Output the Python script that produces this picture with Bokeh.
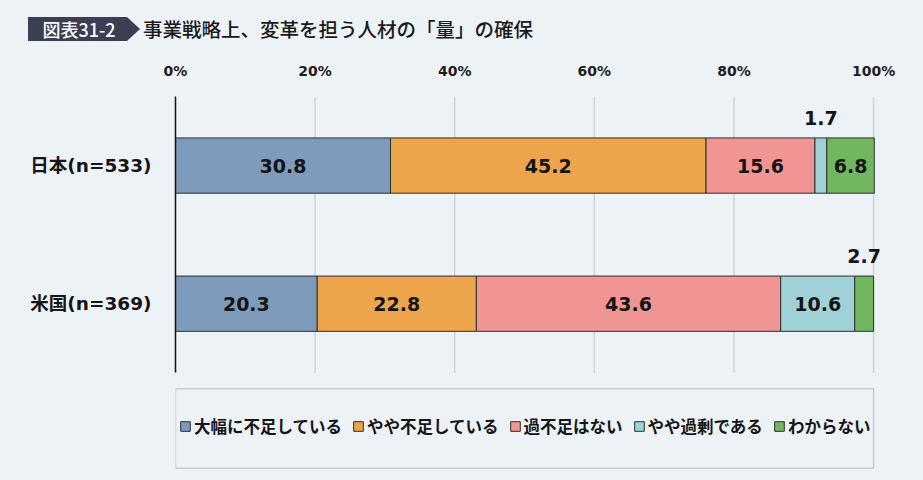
from bokeh.core.properties import value
from bokeh.embed import file_html
from bokeh.layouts import column
from bokeh.models import (BoxAnnotation, ColumnDataSource, Div, FixedTicker, Legend,
                          LegendItem, PrintfTickFormatter, Range1d)
from bokeh.plotting import figure
from bokeh.resources import INLINE

# data
groups = ["日本(n=533)", "米国(n=369)"]
categories = ["大幅に不足している", "やや不足している", "過不足はない", "やや過剰である", "わからない"]
japan = [30.8, 45.2, 15.6, 1.7, 6.8]
usa = [20.3, 22.8, 43.6, 10.6, 2.7]
colors = ["#7f9bbb", "#eca54b", "#f19594", "#a0d1d6", "#72b760"]
x_ticks = [0, 20, 40, 60, 80, 100]

BG = "#edf2f6"
BAR_H = 0.4
X_END = 104                        # a little room right of 100% for the outside labels
Y_TOP, Y_BOTTOM = 1.5, -1.28       # frame extends below the bars to hold the legend box
LEG_TOP, LEG_BOTTOM = -0.615, -1.192

series = [japan, usa]
rows = [len(groups) - 1 - i for i in range(len(groups))]
keys = ["c%d" % k for k in range(len(categories))]

data = {"y": rows}
for k, key in enumerate(keys):
    data[key] = [s[k] for s in series]
source = ColumnDataSource(data)

# header: badge + title
header = Div(text="""
<div style="position:relative;width:923px;height:59px;font-family:'Noto Sans CJK JP',sans-serif;">
  <div style="position:absolute;left:28px;top:17px;width:112px;height:24px;background:#3c3f53;
              clip-path:polygon(0 0,99px 0,112px 50%,99px 100%,0 100%);"></div>
  <div style="position:absolute;left:28px;top:17px;width:102px;height:24px;line-height:24px;
              text-align:center;color:#ffffff;font-size:18px;font-weight:500;">図表31-2</div>
  <div style="position:absolute;left:143px;top:15px;height:28px;line-height:28px;
              font-size:19.5px;font-weight:500;color:#1b1b1b;white-space:nowrap;">事業戦略上、変革を担う人材の「量」の確保</div>
</div>""", width=923, height=59, margin=0)

p = figure(width=923, height=421, output_backend="svg", toolbar_location=None,
           x_range=Range1d(0, X_END), y_range=Range1d(Y_BOTTOM, Y_TOP),
           x_axis_location="above", min_border_left=175, min_border_right=22,
           min_border_top=35, min_border_bottom=0, margin=0)
p.background_fill_color = BG
p.border_fill_color = BG
p.outline_line_color = None
p.xgrid.visible = False
p.ygrid.visible = False

# vertical grid lines limited to the bar area
p.segment(x0=x_ticks[1:], x1=x_ticks[1:], y0=-0.5, y1=1.5, line_color="#cfd3d7", line_width=1.5)

renderers = p.hbar_stack(keys, y="y", height=BAR_H, color=colors, source=source,
                         line_color="#2e2e2e", line_width=1)

# value labels: inside the segment when wide enough, above it otherwise
in_x, in_y, in_t, out_x, out_y, out_t = [], [], [], [], [], []
for s, row in zip(series, rows):
    left = 0
    for v in s:
        if v >= 5:
            in_x.append(left + v / 2); in_y.append(row); in_t.append("%.1f" % v)
        else:
            out_x.append(left + v / 2); out_y.append(row + BAR_H / 2); out_t.append("%.1f" % v)
        left += v

p.text(x=in_x, y=in_y, text=in_t, text_font=value("DejaVu Sans"), text_font_style="bold",
       text_font_size="19px", text_color="#151515", text_align="center", text_baseline="middle")
p.text(x=out_x, y=out_y, text=out_t, text_font=value("DejaVu Sans"), text_font_style="bold",
       text_font_size="19px", text_color="#151515", text_align="center", text_baseline="bottom",
       y_offset=-13)

# axes
p.xaxis.ticker = FixedTicker(ticks=x_ticks)
p.xaxis.formatter = PrintfTickFormatter(format="%d%%")
p.xaxis.axis_line_color = None
p.xaxis.major_tick_line_color = None
p.xaxis.minor_tick_line_color = None
p.xaxis.major_label_standoff = 12
p.xaxis.major_label_text_font = "DejaVu Sans"
p.xaxis.major_label_text_font_style = "bold"
p.xaxis.major_label_text_font_size = "14px"
p.xaxis.major_label_text_color = "#1e1e1e"

p.yaxis.ticker = FixedTicker(ticks=rows)
p.yaxis.major_label_overrides = {r: g for r, g in zip(rows, groups)}
p.yaxis.bounds = (-0.5, 1.5)
p.yaxis.axis_line_color = "#111111"
p.yaxis.axis_line_width = 1.5
p.yaxis.major_tick_line_color = None
p.yaxis.minor_tick_line_color = None
p.yaxis.major_label_standoff = 18
p.yaxis.major_label_text_font = "DejaVu Sans, Noto Sans CJK JP"
p.yaxis.major_label_text_font_style = "bold"
p.yaxis.major_label_text_font_size = "18.5px"
p.yaxis.major_label_text_color = "#151515"

# legend in a framed box under the bars
p.add_layout(BoxAnnotation(left=0, right=100, top=LEG_TOP, bottom=LEG_BOTTOM,
                           fill_color=BG, fill_alpha=1, line_color="#c6cacd", line_alpha=1,
                           line_width=1.5))
legend = Legend(items=[LegendItem(label=c, renderers=[r]) for c, r in zip(categories, renderers)],
                orientation="horizontal", location=(4, 42), padding=0,
                spacing=10, glyph_width=12, glyph_height=12, label_standoff=3, label_height=20,
                label_text_font="Noto Sans CJK JP", label_text_font_style="bold",
                label_text_font_size="16.5px", label_text_color="#151515",
                background_fill_alpha=0, border_line_color=None)
p.add_layout(legend)

layout = column(header, p, spacing=0, margin=0)
html = file_html(layout, INLINE).replace("<body>", '<body style="background:%s">' % BG)
open("out.html", "w").write(html)
